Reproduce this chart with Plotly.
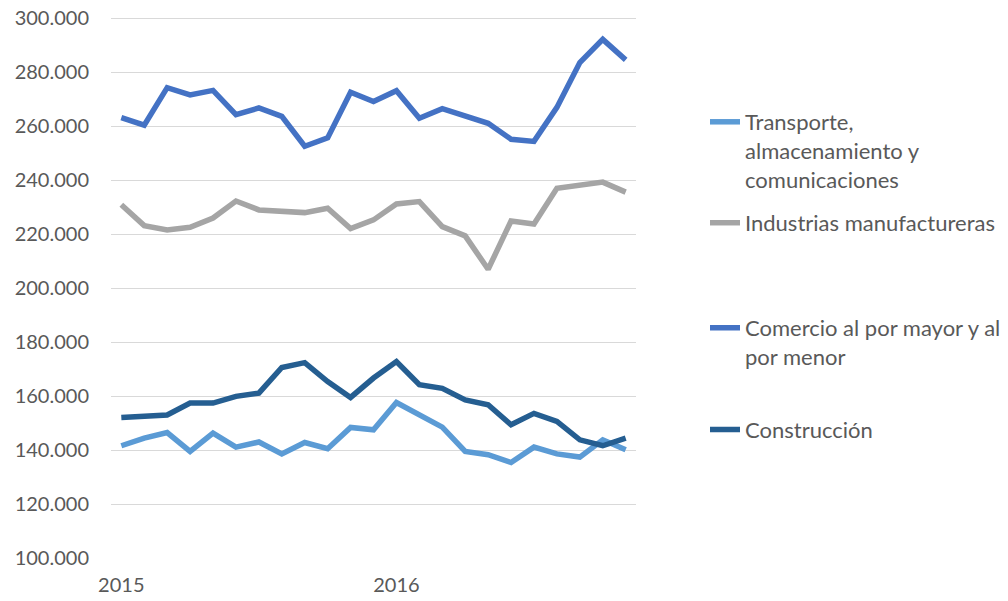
import plotly.graph_objects as go

months = [f"{y}-{m:02d}" for y, m in [(2015, i) for i in range(1, 13)] + [(2016, i) for i in range(1, 12)]]
tick_vals = ["2015-01", "2016-01"]
tick_text = ["2015", "2016"]

transporte = [141600, 144400, 146500, 139500, 146300, 141100, 143000, 138600, 142800, 140500, 148400, 147500,
              157600, 153100, 148500, 139500, 138300, 135400, 141100, 138600, 137400, 143800, 140100]
industrias = [230900, 223200, 221600, 222600, 226000, 232300, 229000, 228400, 228000, 229600, 222100, 225300,
              231200, 232100, 222800, 219400, 207000, 224900, 223800, 237000, 238300, 239300, 235600]
comercio = [263200, 260400, 274300, 271600, 273300, 264300, 266800, 263700, 252600, 255700, 272600, 269200,
            273200, 263000, 266500, 263600, 261100, 255200, 254400, 267000, 283600, 292200, 284600]
construccion = [152100, 152300, 153000, 157400, 157400, 159900, 161100, 170600, 172400, 165400, 159500, 166700,
                172800, 164200, 162900, 158600, 156800, 149400, 153600, 150600, 143800, 141600, 144400]

names = ["Transporte,<br>almacenamiento y<br>comunicaciones", "Industrias manufactureras",
         "Comercio al por mayor y al<br>por menor", "Construcción"]
series = [transporte, industrias, comercio, construccion]
colors = ["#5B9BD5", "#A5A5A5", "#4472C4", "#255E91"]
legend_ids = ["legend", "legend2", "legend3", "legend4"]

FONT = "Lato"
TXT = "#595959"

fig = go.Figure()
for name, vals, col, lg in zip(names, series, colors, legend_ids):
    fig.add_trace(go.Scatter(x=months, y=vals, name=name, mode="lines",
                             line=dict(color=col, width=5.5), legend=lg))

# body margin removed by post_script, so figure coords == screen coords
W, H = 1008, 601
Y0, Y1 = 100000, 300500
scale = 540 / 200000  # px per unit
L, R = 111, 636
B = 558.3
T = B - (Y1 - Y0) * scale
pw, ph = R - L, B - T


def px_x(x):
    return (x - L) / pw


def px_y(y):
    return (B - y) / ph


legend_tops = [122, 223, 328, 430]
leg_common = dict(font=dict(family=FONT, size=22, color=TXT), bgcolor="rgba(0,0,0,0)",
                  xanchor="left", yanchor="top", valign="top", itemwidth=30)
layout_legends = {}
for lg, ytop in zip(legend_ids, legend_tops):
    layout_legends[lg] = dict(x=px_x(705), y=px_y(ytop - 21), **leg_common)

fig.update_layout(
    width=W, height=H,
    margin=dict(l=L, r=W - R, t=T, b=H - B, pad=0, autoexpand=False),
    paper_bgcolor="white", plot_bgcolor="white",
    separators=",.",
    font=dict(family=FONT, size=21, color=TXT),
    showlegend=True,
    xaxis=dict(type="category", range=[-0.45, 22.45], tickmode="array", tickvals=tick_vals,
               ticktext=tick_text, showgrid=False, zeroline=False, showline=False, automargin=False,
               ticklabeloverflow="allow",
               ticks="", ticklabelstandoff=13, tickfont=dict(family=FONT, size=20, color=TXT)),
    yaxis=dict(range=[Y0, Y1], tick0=0, dtick=20000, tickformat=",d", showgrid=True, automargin=False,
               gridcolor="#D9D9D9", gridwidth=1.3, zeroline=False, showline=False,
               ticklabeloverflow="allow",
               ticks="", ticklabelstandoff=21, tickfont=dict(family=FONT, size=20, color=TXT)),
    **layout_legends,
)

fig.write_html("out.html", config={"displayModeBar": False},
               post_script="document.body.style.margin='0';")
